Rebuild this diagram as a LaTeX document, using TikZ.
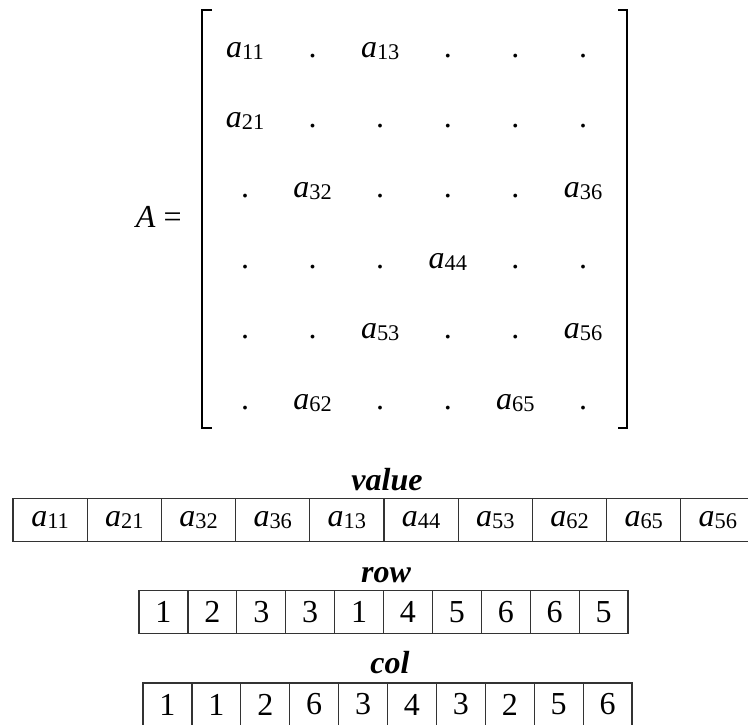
\documentclass[tikz,border=0pt]{standalone}
\usepackage{fontspec}
\setmainfont{Liberation Serif}
\newcommand\aij[1]{\textit{a}\raisebox{-1pt}{\fontsize{11.2}{12}\selectfont #1}}
\begin{document}
\begin{tikzpicture}[x=0.5pt,y=-0.5pt,
  every node/.style={font=\fontsize{16}{19}\selectfont},
  ent/.style={anchor=base,inner sep=0pt},
  brk/.style={line width=1.3pt},
  grid/.style={draw=black!80,line width=0.6pt},
  cellbox/.style={inner sep=0pt,outer sep=0pt,anchor=center,minimum height=21.5pt},
  vcell/.style={cellbox,minimum width=37.1pt},
  rcell/.style={cellbox,minimum width=24.45pt},
  lbl/.style={anchor=base,inner sep=0pt,font=\fontsize{16}{19}\selectfont\bfseries\itshape}]
\useasboundingbox (0,0) rectangle (748,724);
\clip (0,0) rectangle (748,724);
% matrix
\node[anchor=base east,inner sep=0pt] (A) at (182,227) {\textit{A} =};
\draw[brk] (212,10) -- (202,10) -- (202,428) -- (212,428);
\draw[brk] (618,10) -- (627,10) -- (627,428) -- (618,428);
\foreach \r/\c/\t in {
  1/1/{\aij{11}},1/2/{.},1/3/{\aij{13}},1/4/{.},1/5/{.},1/6/{.},
  2/1/{\aij{21}},2/2/{.},2/3/{.},2/4/{.},2/5/{.},2/6/{.},
  3/1/{.},3/2/{\aij{32}},3/3/{.},3/4/{.},3/5/{.},3/6/{\aij{36}},
  4/1/{.},4/2/{.},4/3/{.},4/4/{\aij{44}},4/5/{.},4/6/{.},
  5/1/{.},5/2/{.},5/3/{\aij{53}},5/4/{.},5/5/{.},5/6/{\aij{56}},
  6/1/{.},6/2/{\aij{62}},6/3/{.},6/4/{.},6/5/{\aij{65}},6/6/{.}}
  \node[ent] (m\r\c) at ({245+67.6*(\c-1)},{57+70.4*(\r-1)}) {\t};
% value
\node[lbl] (lv) at (387,490) {value};
\foreach \t [count=\i] in {11,21,32,36,13,44,53,62,65,56}
  \node[vcell] (v\i) at ({13+74.2*(\i-0.5)},520) {\aij{\t}};
\draw[grid] (v1.north west) rectangle (v10.south east);
\foreach \i in {1,...,9} \draw[grid] (v\i.north east) -- (v\i.south east);
% row
\node[lbl] (lr) at (386,582) {row};
\foreach \t [count=\i] in {1,2,3,3,1,4,5,6,6,5}
  \node[rcell] (r\i) at ({139+48.9*(\i-0.5)},612) {\t};
\draw[grid] (r1.north west) rectangle (r10.south east);
\foreach \i in {1,...,9} \draw[grid] (r\i.north east) -- (r\i.south east);
% col
\node[lbl] (lc) at (390,673) {col};
\foreach \t [count=\i] in {1,1,2,6,3,4,3,2,5,6}
  \node[rcell] (c\i) at ({143+48.9*(\i-0.5)},704.5) {\t};
\draw[grid] (c1.north west) rectangle (c10.south east);
\foreach \i in {1,...,9} \draw[grid] (c\i.north east) -- (c\i.south east);
\end{tikzpicture}
\end{document}
